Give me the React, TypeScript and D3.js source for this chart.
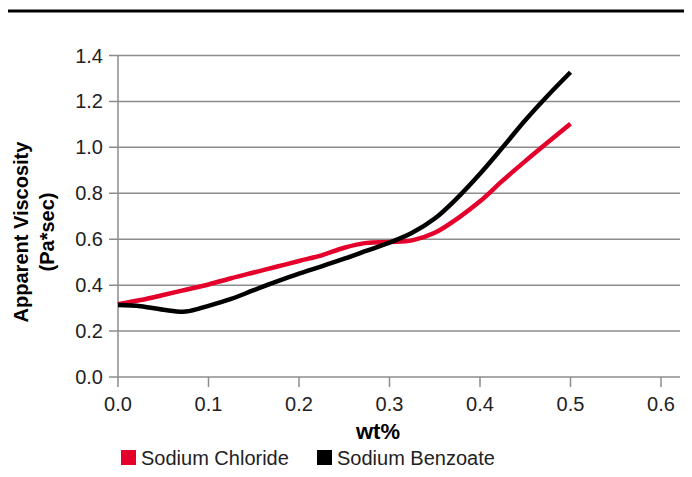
import React, { useEffect, useRef } from 'react';
import * as d3 from 'd3';

const wtPercent = [0, 0.025, 0.05, 0.075, 0.1, 0.125, 0.15, 0.175, 0.2, 0.225, 0.25, 0.275, 0.3, 0.325, 0.35, 0.375, 0.4, 0.425, 0.45, 0.475, 0.5];
const sodiumChloride = [0.317, 0.335, 0.357, 0.38, 0.403, 0.43, 0.455, 0.48, 0.505, 0.53, 0.563, 0.584, 0.588, 0.595, 0.628, 0.69, 0.765, 0.855, 0.94, 1.022, 1.103];
const sodiumBenzoate = [0.313, 0.308, 0.293, 0.285, 0.31, 0.34, 0.378, 0.415, 0.45, 0.482, 0.515, 0.55, 0.585, 0.628, 0.69, 0.78, 0.885, 1.0, 1.118, 1.226, 1.327];
const xTicks = [0, 0.1, 0.2, 0.3, 0.4, 0.5, 0.6];
const yTicks = [0, 0.2, 0.4, 0.6, 0.8, 1.0, 1.2, 1.4];

const series = [
  { name: 'Sodium Chloride', values: sodiumChloride, color: '#e4002b' },
  { name: 'Sodium Benzoate', values: sodiumBenzoate, color: '#000000' },
];

const W = 692;
const H = 477;
const FONT = '"Liberation Sans", Arial, sans-serif';

export default function App() {
  const svgRef = useRef<SVGSVGElement>(null);

  useEffect(() => {
    if (!svgRef.current) return;
    const svg = d3.select(svgRef.current);
    svg.selectAll('*').remove();

    const x = d3.scaleLinear().domain([0, 0.6]).range([118, 661]);
    const y = d3.scaleLinear().domain([0, 1.4]).range([377, 55.5]);
    const gridRight = 680;

    // top rule
    svg.append('rect').attr('x', 8).attr('y', 9.5).attr('width', 676).attr('height', 3).attr('fill', '#000');

    // horizontal grid lines + y ticks
    svg.append('g')
      .selectAll('line')
      .data(yTicks)
      .enter()
      .append('line')
      .attr('x1', 109)
      .attr('x2', gridRight)
      .attr('y1', d => y(d))
      .attr('y2', d => y(d))
      .attr('stroke', '#8c8c8c')
      .attr('stroke-width', 1.5);

    // y axis line
    svg.append('line')
      .attr('x1', x(0)).attr('x2', x(0))
      .attr('y1', y(1.4)).attr('y2', y(0) + 10)
      .attr('stroke', '#8c8c8c').attr('stroke-width', 1.5);

    // x ticks
    svg.append('g')
      .selectAll('line')
      .data(xTicks.slice(1))
      .enter()
      .append('line')
      .attr('x1', d => x(d)).attr('x2', d => x(d))
      .attr('y1', y(0)).attr('y2', y(0) + 10)
      .attr('stroke', '#8c8c8c').attr('stroke-width', 1.5);

    // y tick labels
    svg.append('g')
      .selectAll('text')
      .data(yTicks)
      .enter()
      .append('text')
      .attr('x', 103)
      .attr('y', d => y(d) + 7)
      .attr('text-anchor', 'end')
      .style('font-family', FONT)
      .style('font-size', '20px')
      .attr('fill', '#222')
      .text(d => d3.format('.1f')(d));

    // x tick labels
    svg.append('g')
      .selectAll('text')
      .data(xTicks)
      .enter()
      .append('text')
      .attr('x', d => x(d))
      .attr('y', 411)
      .attr('text-anchor', 'middle')
      .style('font-family', FONT)
      .style('font-size', '20px')
      .attr('fill', '#222')
      .text(d => d3.format('.1f')(d));

    // axis titles
    svg.append('text')
      .attr('x', 378).attr('y', 439)
      .attr('text-anchor', 'middle')
      .style('font-family', FONT).style('font-size', '22px').style('font-weight', 'bold')
      .text('wt%');

    const yt = svg.append('text')
      .attr('transform', 'translate(28,232) rotate(-90)')
      .attr('text-anchor', 'middle')
      .style('font-family', FONT).style('font-size', '20px').style('font-weight', 'bold');
    yt.append('tspan').attr('x', 0).attr('dy', 0).text('Apparent Viscosity');
    yt.append('tspan').attr('x', 0).attr('dy', 26).text('(Pa*sec)');

    // lines
    const line = d3.line<number>()
      .x((_, i) => x(wtPercent[i]))
      .y(d => y(d))
      .curve(d3.curveCatmullRom.alpha(0.5));

    series.forEach(s => {
      svg.append('path')
        .datum(s.values)
        .attr('d', line)
        .attr('fill', 'none')
        .attr('stroke', s.color)
        .attr('stroke-width', 4.5);
    });

    // legend
    const legendX = [121, 317];
    const lg = svg.append('g')
      .selectAll('g')
      .data(series)
      .enter()
      .append('g')
      .attr('transform', (_, i) => `translate(${legendX[i]},450)`);
    lg.append('rect').attr('width', 15).attr('height', 15).attr('fill', d => d.color);
    lg.append('text')
      .attr('x', 20).attr('y', 15)
      .style('font-family', FONT).style('font-size', '20px')
      .attr('fill', '#222')
      .text(d => d.name);
  }, []);

  return (
    <svg
      ref={svgRef}
      width={W}
      height={H}
      style={{ position: 'absolute', left: 0, top: 0, background: '#fff' }}
    />
  );
}
